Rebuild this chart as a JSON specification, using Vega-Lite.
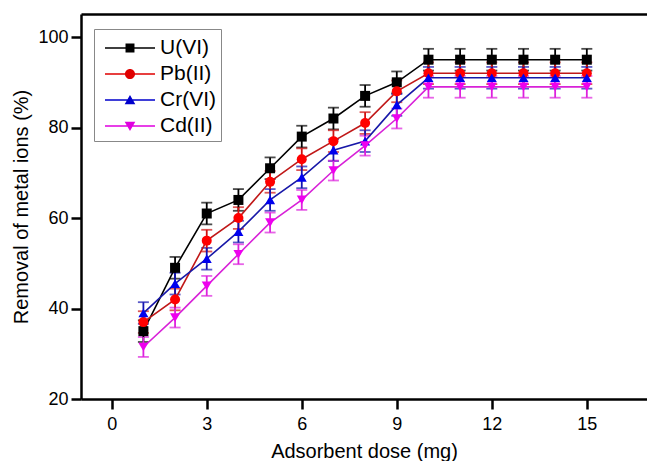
{
  "$schema": "https://vega.github.io/schema/vega-lite/v6.json",
  "width": 566,
  "height": 385,
  "autosize": "none",
  "padding": {"left": 81, "top": 14, "right": 0, "bottom": 62},
  "background": "white",
  "config": {
    "view": {"stroke": null},
    "font": "Liberation Sans",
    "axis": {
      "domainColor": "black", "domainWidth": 2.5, "tickColor": "black", "tickWidth": 2.5,
      "tickSize": 10, "labelFontSize": 18, "labelColor": "black", "labelFont": "Liberation Sans",
      "titleFont": "Liberation Sans", "titleFontSize": 20, "titleFontWeight": "normal", "titleColor": "black",
      "grid": false
    }
  },
  "data": {"values": [
    {"dose": 1, "ion": "U(VI)", "removal": 35, "err": 2.4},
    {"dose": 2, "ion": "U(VI)", "removal": 49, "err": 2.4},
    {"dose": 3, "ion": "U(VI)", "removal": 61, "err": 2.4},
    {"dose": 4, "ion": "U(VI)", "removal": 64, "err": 2.4},
    {"dose": 5, "ion": "U(VI)", "removal": 71, "err": 2.4},
    {"dose": 6, "ion": "U(VI)", "removal": 78, "err": 2.4},
    {"dose": 7, "ion": "U(VI)", "removal": 82, "err": 2.4},
    {"dose": 8, "ion": "U(VI)", "removal": 87, "err": 2.4},
    {"dose": 9, "ion": "U(VI)", "removal": 90, "err": 2.4},
    {"dose": 10, "ion": "U(VI)", "removal": 95, "err": 2.4},
    {"dose": 11, "ion": "U(VI)", "removal": 95, "err": 2.4},
    {"dose": 12, "ion": "U(VI)", "removal": 95, "err": 2.4},
    {"dose": 13, "ion": "U(VI)", "removal": 95, "err": 2.4},
    {"dose": 14, "ion": "U(VI)", "removal": 95, "err": 2.4},
    {"dose": 15, "ion": "U(VI)", "removal": 95, "err": 2.4},
    {"dose": 1, "ion": "Pb(II)", "removal": 37, "err": 2.4},
    {"dose": 2, "ion": "Pb(II)", "removal": 42, "err": 2.4},
    {"dose": 3, "ion": "Pb(II)", "removal": 55, "err": 2.4},
    {"dose": 4, "ion": "Pb(II)", "removal": 60, "err": 2.4},
    {"dose": 5, "ion": "Pb(II)", "removal": 68, "err": 2.4},
    {"dose": 6, "ion": "Pb(II)", "removal": 73, "err": 2.4},
    {"dose": 7, "ion": "Pb(II)", "removal": 77, "err": 2.4},
    {"dose": 8, "ion": "Pb(II)", "removal": 81, "err": 2.4},
    {"dose": 9, "ion": "Pb(II)", "removal": 88, "err": 2.4},
    {"dose": 10, "ion": "Pb(II)", "removal": 92, "err": 2.4},
    {"dose": 11, "ion": "Pb(II)", "removal": 92, "err": 2.4},
    {"dose": 12, "ion": "Pb(II)", "removal": 92, "err": 2.4},
    {"dose": 13, "ion": "Pb(II)", "removal": 92, "err": 2.4},
    {"dose": 14, "ion": "Pb(II)", "removal": 92, "err": 2.4},
    {"dose": 15, "ion": "Pb(II)", "removal": 92, "err": 2.4},
    {"dose": 1, "ion": "Cr(VI)", "removal": 39, "err": 2.4},
    {"dose": 2, "ion": "Cr(VI)", "removal": 45.5, "err": 2.4},
    {"dose": 3, "ion": "Cr(VI)", "removal": 51, "err": 2.4},
    {"dose": 4, "ion": "Cr(VI)", "removal": 57, "err": 2.4},
    {"dose": 5, "ion": "Cr(VI)", "removal": 64, "err": 2.4},
    {"dose": 6, "ion": "Cr(VI)", "removal": 69, "err": 2.4},
    {"dose": 7, "ion": "Cr(VI)", "removal": 75, "err": 2.4},
    {"dose": 8, "ion": "Cr(VI)", "removal": 77, "err": 2.4},
    {"dose": 9, "ion": "Cr(VI)", "removal": 85, "err": 2.4},
    {"dose": 10, "ion": "Cr(VI)", "removal": 91, "err": 2.4},
    {"dose": 11, "ion": "Cr(VI)", "removal": 91, "err": 2.4},
    {"dose": 12, "ion": "Cr(VI)", "removal": 91, "err": 2.4},
    {"dose": 13, "ion": "Cr(VI)", "removal": 91, "err": 2.4},
    {"dose": 14, "ion": "Cr(VI)", "removal": 91, "err": 2.4},
    {"dose": 15, "ion": "Cr(VI)", "removal": 91, "err": 2.4},
    {"dose": 1, "ion": "Cd(II)", "removal": 31.5, "err": 2.2},
    {"dose": 2, "ion": "Cd(II)", "removal": 38, "err": 2.2},
    {"dose": 3, "ion": "Cd(II)", "removal": 45, "err": 2.2},
    {"dose": 4, "ion": "Cd(II)", "removal": 52, "err": 2.2},
    {"dose": 5, "ion": "Cd(II)", "removal": 59, "err": 2.2},
    {"dose": 6, "ion": "Cd(II)", "removal": 64, "err": 2.2},
    {"dose": 7, "ion": "Cd(II)", "removal": 70.5, "err": 2.2},
    {"dose": 8, "ion": "Cd(II)", "removal": 76, "err": 2.2},
    {"dose": 9, "ion": "Cd(II)", "removal": 82, "err": 2.2},
    {"dose": 10, "ion": "Cd(II)", "removal": 89, "err": 2.4},
    {"dose": 11, "ion": "Cd(II)", "removal": 89, "err": 2.4},
    {"dose": 12, "ion": "Cd(II)", "removal": 89, "err": 2.4},
    {"dose": 13, "ion": "Cd(II)", "removal": 89, "err": 2.4},
    {"dose": 14, "ion": "Cd(II)", "removal": 89, "err": 2.4},
    {"dose": 15, "ion": "Cd(II)", "removal": 89, "err": 2.4}
  ]},
  "resolve": {
    "scale": {"color": "independent", "shape": "independent"},
    "legend": {"color": "independent", "shape": "independent"},
    "axis": {"x": "independent"}
  },
  "layer": [
    {
      "mark": {"type": "errorbar", "ticks": {"size": 11}, "thickness": 1.8},
      "encoding": {
        "x": {"field": "dose", "type": "quantitative",
              "scale": {"domain": [-0.97, 16.9], "nice": false, "zero": false},
              "axis": {"values": [0, 3, 6, 9, 12, 15], "title": "Adsorbent dose (mg)", "titlePadding": 8, "labelPadding": 6}},
        "y": {"field": "removal", "type": "quantitative",
              "scale": {"domain": [20, 105.1], "nice": false, "zero": false},
              "axis": {"values": [20, 40, 60, 80, 100], "title": "Removal of metal ions (%)", "titlePadding": 6, "labelPadding": 3}},
        "yError": {"field": "err"},
        "color": {"field": "ion", "type": "nominal", "legend": null,
                  "scale": {"domain": ["U(VI)", "Pb(II)", "Cr(VI)", "Cd(II)"], "range": ["#000000", "#d01010", "#1515b0", "#dd22dd"]}}
      }
    },
    {
      "mark": {"type": "line", "strokeWidth": 1.6},
      "encoding": {
        "x": {"field": "dose", "type": "quantitative", "axis": null},
        "y": {"field": "removal", "type": "quantitative"},
        "color": {"field": "ion", "type": "nominal", "legend": null,
                  "scale": {"domain": ["U(VI)", "Pb(II)", "Cr(VI)", "Cd(II)"], "range": ["#000000", "#c01818", "#1818a8", "#d822d8"]}}
      }
    },
    {
      "mark": {"type": "point", "filled": true, "opacity": 1, "size": 100},
      "encoding": {
        "x": {"field": "dose", "type": "quantitative", "axis": null},
        "y": {"field": "removal", "type": "quantitative"},
        "color": {"field": "ion", "type": "nominal", "legend": null,
                  "scale": {"domain": ["U(VI)", "Pb(II)", "Cr(VI)", "Cd(II)"], "range": ["#000000", "#ff0000", "#0000ee", "#ee00ee"]}},
        "shape": {"field": "ion", "type": "nominal", "legend": null,
                  "scale": {"domain": ["U(VI)", "Pb(II)", "Cr(VI)", "Cd(II)"], "range": ["square", "circle", "triangle-up", "triangle-down"]}}
      }
    },
    {
      "mark": {"type": "point", "filled": true, "opacity": 1, "size": 0},
      "encoding": {
        "x": {"field": "dose", "type": "quantitative",
              "axis": {"orient": "top", "labels": false, "ticks": false, "title": null, "values": []}},
        "y": {"field": "removal", "type": "quantitative"},
        "color": {"field": "ion", "type": "nominal",
                  "scale": {"domain": ["U(VI)", "Pb(II)", "Cr(VI)", "Cd(II)"], "range": ["#000000", "#e00000", "#0000cc", "#e000e0"]},
                  "legend": {"title": " ", "titleFontSize": 6, "titlePadding": 2, "orient": "none", "legendX": 13, "legendY": 15,
                             "strokeColor": "#888888", "padding": 5, "symbolSize": 3136, "symbolStrokeWidth": 0,
                             "clipHeight": 12, "rowPadding": 5, "labelOffset": 5, "labelFontSize": 21,
                             "labelFont": "Liberation Sans", "labelColor": "black", "symbolOpacity": 1}},
        "shape": {"field": "ion", "type": "nominal",
                  "scale": {"domain": ["U(VI)", "Pb(II)", "Cr(VI)", "Cd(II)"],
                            "range": [
                              "M-0.786,-0.029H1V0.029H-0.786Z M-0.053,-0.16H0.267V0.16H-0.053Z",
                              "M-0.786,-0.029H1V0.029H-0.786Z M0.287,0A0.18,0.18 0 1 1 -0.073,0A0.18,0.18 0 1 1 0.287,0Z",
                              "M-0.786,-0.029H1V0.029H-0.786Z M0.107,-0.18L0.297,0.15H-0.083Z",
                              "M-0.786,-0.029H1V0.029H-0.786Z M-0.083,-0.15H0.297L0.107,0.18Z"
                            ]},
                  "legend": {"title": " ", "titleFontSize": 6, "titlePadding": 2, "orient": "none", "legendX": 13, "legendY": 15,
                             "strokeColor": "#888888", "padding": 5, "symbolSize": 3136, "symbolStrokeWidth": 0,
                             "clipHeight": 12, "rowPadding": 5, "labelOffset": 5, "labelFontSize": 21,
                             "labelFont": "Liberation Sans", "labelColor": "black", "symbolOpacity": 1}}
      }
    }
  ]
}
